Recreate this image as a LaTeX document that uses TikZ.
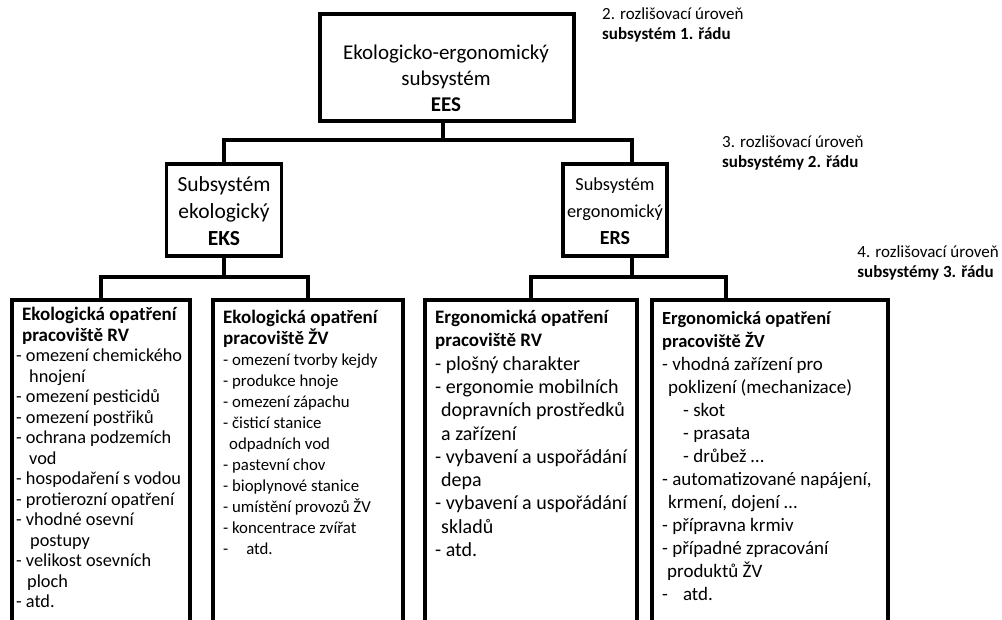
\documentclass[tikz,border=0pt]{standalone}
\usepackage{fontspec}
\setmainfont{Carlito}
\newcommand{\ttl}[2]{{\fontsize{#1}{#1}\selectfont\bfseries #2}}
\begin{document}
\begin{tikzpicture}[x=1pt,y=-1pt,
  box/.style={draw=black, line width=3.2pt, inner sep=0pt, outer sep=0pt, fill=white},
  conn/.style={draw=black, line width=3.2pt},
  head/.style={align=center, inner sep=0pt},
  list/.style={anchor=north west, align=left, inner sep=0pt},
  lvl/.style={anchor=north west, align=left, inner sep=0pt, font=\fontsize{17}{20}\selectfont}]
\useasboundingbox (0,0) rectangle (1002,619);
\clip (0,0) rectangle (1002,619);

% level coordinates of the horizontal bars
\coordinate (lev1) at (0,140);
\coordinate (lev2) at (0,277);

% boxes
\node[box, minimum width=254, minimum height=107] (ees) at (447,67.5) {};
\node[box, minimum width=115, minimum height=92] (eks) at (224,210) {};
\node[box, minimum width=104, minimum height=92] (ers) at (615,210) {};
\node[box, anchor=north, minimum width=178, minimum height=360] (b1) at (101,300) {};
\node[box, anchor=north, minimum width=190, minimum height=360] (b2) at (308,300) {};
\node[box, anchor=north, minimum width=212, minimum height=360] (b3) at (531,300) {};
\node[box, anchor=north, minimum width=236, minimum height=360] (b4) at (770,300) {};

% connector entry points that sit off the box centres
\coordinate (eesS) at ([xshift=-4pt]ees.south);
\coordinate (ersN) at ([xshift=17pt]ers.north);
\coordinate (ersS) at ([xshift=17pt]ers.south);
\coordinate (b4N) at ([xshift=-44pt]b4.north);

% connectors
\draw[conn] (eesS) -- (eesS |- lev1);
\draw[conn] (eks.north) |- (lev1 -| ersN) -- (ersN);
\draw[conn] (eks.south) -- (eks.south |- lev2);
\draw[conn] (b1.north) |- (lev2 -| b2.north) -- (b2.north);
\draw[conn] (ersS) -- (ersS |- lev2);
\draw[conn] (b3.north) |- (lev2 -| b4N) -- (b4N);

% box texts
\node[head, font=\fontsize{21}{26}\selectfont] (eesT) at (446,78)
  {Ekologicko-ergonomický\\subsystém\\\textbf{EES}};
\node[head, font=\fontsize{21.5}{27}\selectfont] (eksT) at (224,211)
  {Subsystém\\ekologický\\\textbf{EKS}};
\node[head, font=\fontsize{18.3}{27}\selectfont] (ersT) at (615,211)
  {Subsystém\\ergonomický\\{\fontsize{20}{20}\selectfont\bfseries ERS}};

\node[list, font=\fontsize{18.3}{20.5}\selectfont] (t1) at (16,307)
  {\hspace*{6pt}\ttl{19}{Ekologická opatření}\\
   \hspace*{6pt}\ttl{19}{pracoviště RV}\\
   - omezení chemického\\
   \hspace*{13pt}hnojení\\
   - omezení pesticidů\\
   - omezení postřiků\\
   - ochrana podzemích\\
   \hspace*{13pt}vod\\
   - hospodaření s vodou\\
   - protierozní opatření\\
   - vhodné osevní\\
   \hspace*{14pt}postupy\\
   - velikost osevních\\
   \hspace*{11pt}ploch\\
   - atd.};

\node[list, font=\fontsize{16.8}{21}\selectfont] (t2) at (223,310)
  {\ttl{19}{Ekologická opatření}\\
   \ttl{19}{pracoviště ŽV}\\
   - omezení tvorby kejdy\\
   - produkce hnoje\\
   - omezení zápachu\\
   - čisticí stanice\\
   \hspace*{6pt}odpadních vod\\
   - pastevní chov\\
   - bioplynové stanice\\
   - umístění provozů ŽV\\
   - koncentrace zvířat\\
   -\hspace*{18pt}atd.};

\node[list, font=\fontsize{20}{23.3}\selectfont] (t3) at (435,310)
  {\ttl{19}{Ergonomická opatření}\\
   \ttl{19}{pracoviště RV}\\
   - plošný charakter\\
   - ergonomie mobilních\\
   \hspace*{6pt}dopravních prostředků\\
   \hspace*{6pt}a zařízení\\
   - vybavení a uspořádání\\
   \hspace*{6pt}depa\\
   - vybavení a uspořádání\\
   \hspace*{6pt}skladů\\
   - atd.};

\node[list, font=\fontsize{19}{23}\selectfont] (t4) at (662,311)
  {\ttl{18.5}{Ergonomická opatření}\\
   \ttl{18.5}{pracoviště ŽV}\\
   - vhodná zařízení pro\\
   \hspace*{6pt}poklizení (mechanizace)\\
   \hspace*{21pt}- skot\\
   \hspace*{21pt}- prasata\\
   \hspace*{21pt}- drůbež …\\
   - automatizované napájení,\\
   \hspace*{6pt}krmení, dojení …\\
   - přípravna krmiv\\
   - případné zpracování\\
   \hspace*{5pt}produktů ŽV\\
   -\hspace*{15pt}atd.};

% level labels
\node[lvl] (l2) at (602,7) {2. rozlišovací úroveň\\\textbf{subsystém 1. řádu}};
\node[lvl] (l3) at (722,135) {3. rozlišovací úroveň\\\textbf{subsystémy 2. řádu}};
\node[lvl, anchor=north east] (l4) at (999,245) {4. rozlišovací úroveň\\\textbf{subsystémy 3. řádu}};
\end{tikzpicture}
\end{document}
